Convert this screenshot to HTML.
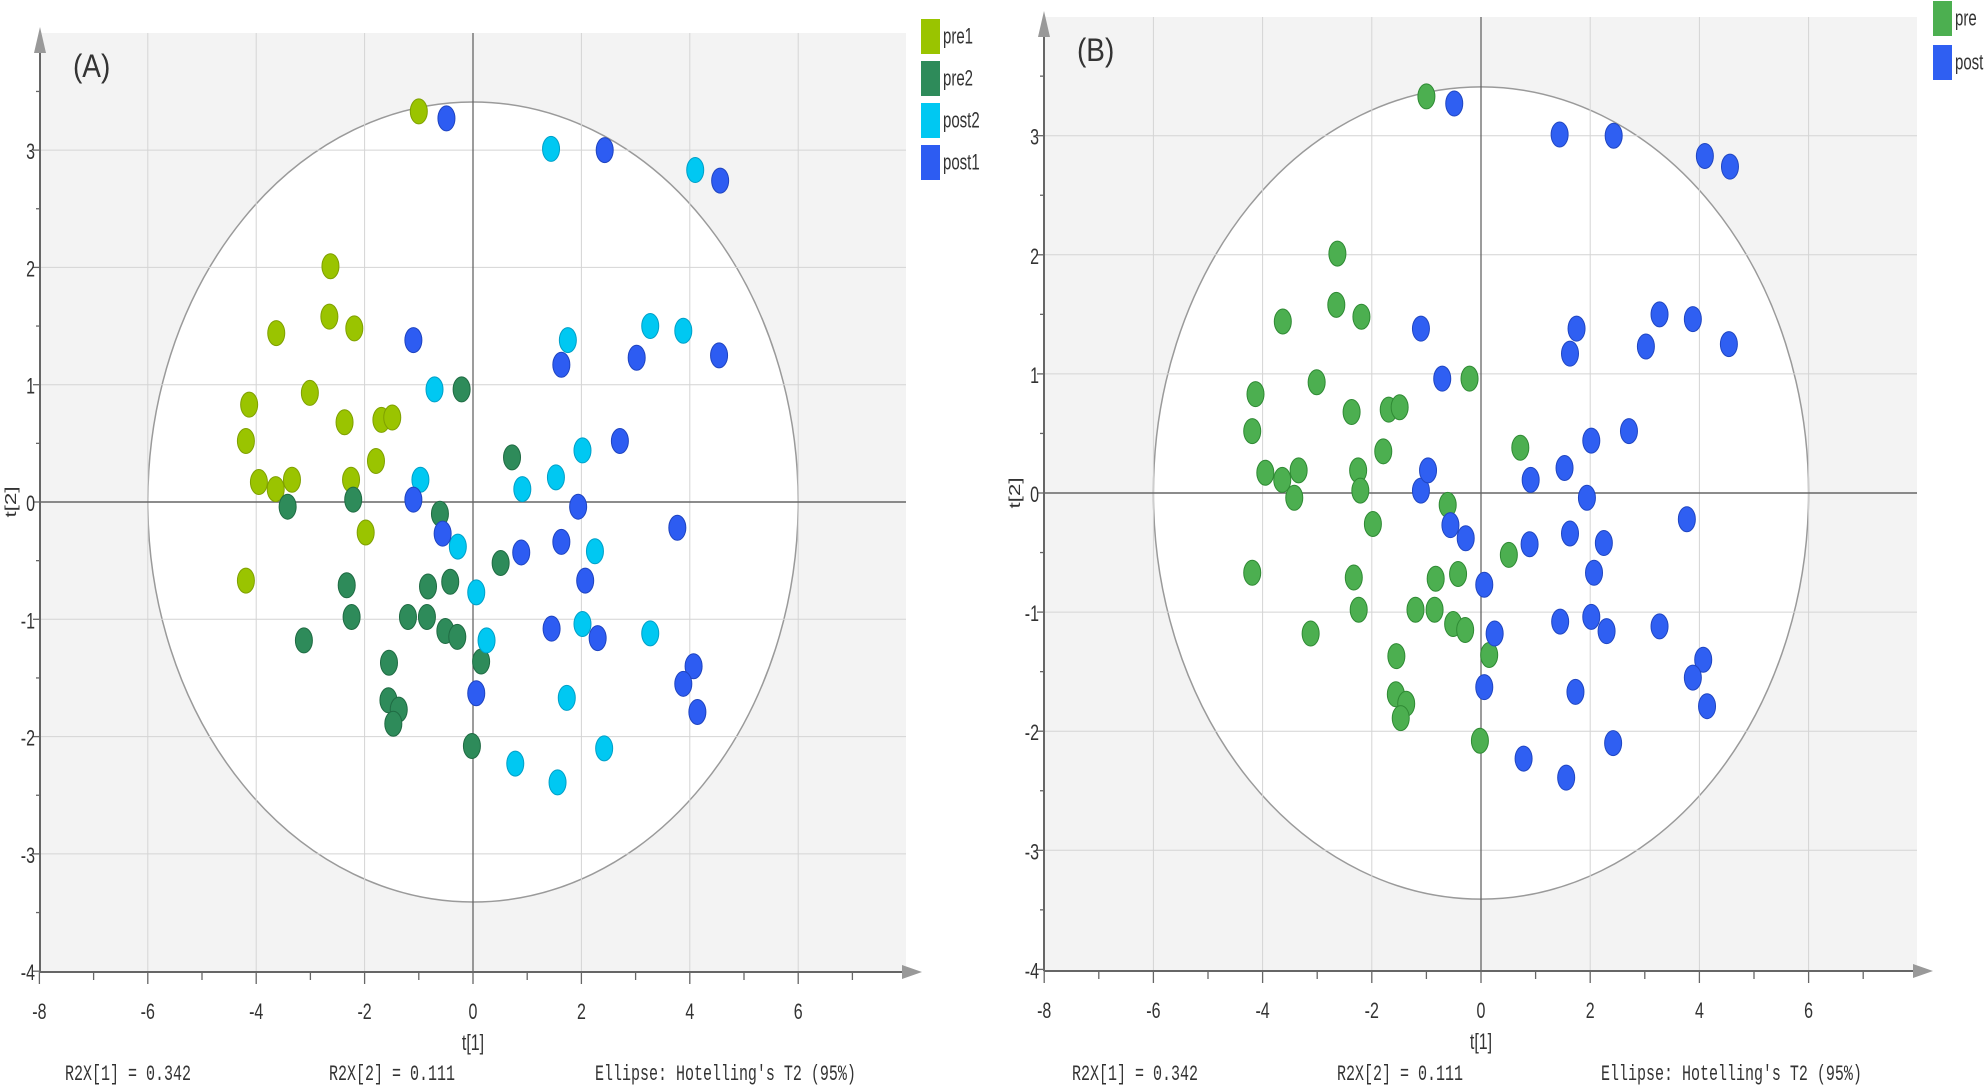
<!DOCTYPE html>
<html><head><meta charset="utf-8"><style>
html,body{margin:0;padding:0;background:#fff;}
svg{display:block;}
text{font-family:"Liberation Sans",sans-serif;fill:#333;}
.m{font-family:"Liberation Mono",monospace;}
</style></head><body>
<svg id="s" width="1984" height="1089" xmlns="http://www.w3.org/2000/svg"></svg>
<script>
const pre1=[[-1.0,3.33],[-2.63,2.01],[-2.65,1.58],[-2.19,1.48],[-3.63,1.44],[-3.01,0.93],[-4.13,0.83],[-2.37,0.68],[-1.69,0.70],[-1.49,0.72],[-4.19,0.52],[-1.79,0.35],[-3.95,0.17],[-3.64,0.11],[-3.34,0.19],[-2.25,0.19],[-1.98,-0.26],[-4.19,-0.67]];
const pre2=[[-0.21,0.96],[0.72,0.38],[-3.42,-0.04],[-2.21,0.02],[-0.61,-0.10],[0.51,-0.52],[-2.33,-0.71],[-0.83,-0.72],[-0.42,-0.68],[-2.24,-0.98],[-1.20,-0.98],[-0.85,-0.98],[-0.51,-1.10],[-0.29,-1.15],[-3.12,-1.18],[-1.55,-1.37],[0.15,-1.36],[-1.56,-1.69],[-1.37,-1.77],[-1.47,-1.89],[-0.02,-2.08]];
const post2=[[1.44,3.01],[4.10,2.83],[3.27,1.5],[3.88,1.46],[1.75,1.38],[-0.71,0.96],[2.02,0.44],[-0.97,0.19],[1.53,0.21],[0.91,0.11],[-0.28,-0.38],[2.25,-0.42],[0.06,-0.77],[2.02,-1.04],[3.27,-1.12],[0.25,-1.18],[1.73,-1.67],[2.42,-2.10],[0.78,-2.23],[1.56,-2.39]];
const post1=[[-0.49,3.27],[2.43,3.0],[4.56,2.74],[-1.10,1.38],[4.54,1.25],[3.02,1.23],[1.63,1.17],[2.71,0.52],[-1.10,0.02],[1.94,-0.04],[3.77,-0.22],[-0.56,-0.27],[1.63,-0.34],[0.89,-0.43],[2.07,-0.67],[1.45,-1.08],[2.30,-1.16],[4.07,-1.40],[3.88,-1.55],[0.06,-1.63],[4.14,-1.79]];
let o='';
function txt(x,y,s,size,anchor,cls,sy){sy=sy||1.4;o+=`<text class="${cls||''}" x="${x}" y="${y/sy}" font-size="${size}" text-anchor="${anchor||'start'}" transform="scale(1,${sy})">${s}</text>`;}
function panel(p){
 const X=v=>p.x0+v*p.ux, Y=v=>p.y0-v*p.uy;
 o+=`<rect x="${p.l}" y="${p.t}" width="${p.r-p.l}" height="${p.b-p.t}" fill="#f3f3f3"/>`;
 o+=`<ellipse cx="${p.x0}" cy="${p.y0}" rx="${6*p.ux}" ry="${3.41*p.uy}" fill="#fff" stroke="#9a9a9a" stroke-width="1.5"/>`;
 for(let v=-6;v<=6;v+=2){if(v)o+=`<line x1="${X(v)}" y1="${p.t}" x2="${X(v)}" y2="${p.b}" stroke="#d4d4d4" stroke-width="1"/>`;}
 for(let v=-3;v<=3;v++){if(v)o+=`<line x1="${p.l}" y1="${Y(v)}" x2="${p.r}" y2="${Y(v)}" stroke="#d4d4d4" stroke-width="1"/>`;}
 o+=`<line x1="${X(0)}" y1="${p.t}" x2="${X(0)}" y2="${p.b}" stroke="#666" stroke-width="1.3"/>`;
 o+=`<line x1="${p.l}" y1="${Y(0)}" x2="${p.r}" y2="${Y(0)}" stroke="#666" stroke-width="1.5"/>`;
 // axes
 o+=`<line x1="${p.l}" y1="${p.b}" x2="${p.r}" y2="${p.b}" stroke="#666" stroke-width="2"/>`;
 o+=`<line x1="${p.l}" y1="${p.b}" x2="${p.l}" y2="${p.t}" stroke="#666" stroke-width="2"/>`;
 o+=`<polygon points="${p.r-4},${p.b-7} ${p.r+16},${p.b} ${p.r-4},${p.b+7}" fill="#999"/>`;
 o+=`<polygon points="${p.l-6},${p.t+20} ${p.l},${p.t-6} ${p.l+6},${p.t+20}" fill="#999"/>`;
 for(let v=-8;v<=7;v++){o+=`<line x1="${X(v)}" y1="${p.b}" x2="${X(v)}" y2="${p.b+(v%2?8:12)}" stroke="#666" stroke-width="1.3"/>`;
   if(v%2==0)txt(X(v),p.b+47,v,16,'middle');}
 for(let v=-4;v<=3.5;v+=0.5){o+=`<line x1="${p.l-(v%1?4:7)}" y1="${Y(v)}" x2="${p.l}" y2="${Y(v)}" stroke="#666" stroke-width="1.3"/>`;
   if(v%1==0)txt(p.l-5,Y(v)+9,v,16,'end');}
 txt(p.x0,p.b+78,'t[1]',16,'middle');
 o+=`<text x="0" y="0" font-size="16" text-anchor="middle" transform="translate(${p.l-24},${p.y0}) rotate(-90) scale(1.4,1)">t[2]</text>`;
 txt(p.l+33,p.t+44,p.lab,28,'start','',1.15);
 txt(p.bt[0],1080,'R2X[1] = 0.342',15,'start','m',1.45);
 txt(p.bt[1],1080,'R2X[2] = 0.111',15,'start','m',1.45);
 txt(p.bt[2],1080,"Ellipse: Hotelling's T2 (95%)",15,'start','m',1.45);
 p.series.forEach(s=>s[0].forEach(d=>{o+=`<ellipse cx="${X(d[0])}" cy="${Y(d[1])}" rx="8.5" ry="12.5" fill="${s[1]}" stroke="${s[2]}" stroke-width="1"/>`;}));
 p.leg.forEach((g,i)=>{o+=`<rect x="${p.lx}" y="${p.ly+i*p.ls}" width="19" height="${p.lh}" fill="${g[1]}"/>`;txt(p.lx+22,p.ly+i*p.ls+p.lh*0.7,g[0],15,'start','',1.45);});
}
const C={p1:['#9ac400','#7fa000'],p2:['#2e8b5a','#1f6b43'],q2:['#00c8f2','#00a0c8'],q1:['#2d5cf2','#1f44c0'],g:['#4caf50','#2f8a34'],b:['#2f5ff2','#2046c2']};
panel({x0:473,ux:54.2,y0:502,uy:117.3,l:40,t:33,r:906,b:972,lab:'(A)',bt:[65,329,595],
 series:[[pre1,...C.p1],[pre2,...C.p2],[post2,...C.q2],[post1,...C.q1]],
 leg:[['pre1',C.p1[0]],['pre2',C.p2[0]],['post2',C.q2[0]],['post1',C.q1[0]]],lx:921,ly:19,ls:42,lh:35});
panel({x0:1481,ux:54.6,y0:493,uy:119.1,l:1044,t:17,r:1917,b:971,lab:'(B)',bt:[1072,1337,1601],
 series:[[pre1.concat(pre2),...C.g],[post1.concat(post2),...C.b]],
 leg:[['pre',C.g[0]],['post',C.b[0]]],lx:1933,ly:1,ls:44,lh:35});
document.getElementById('s').innerHTML=o;
</script>
</body></html>
